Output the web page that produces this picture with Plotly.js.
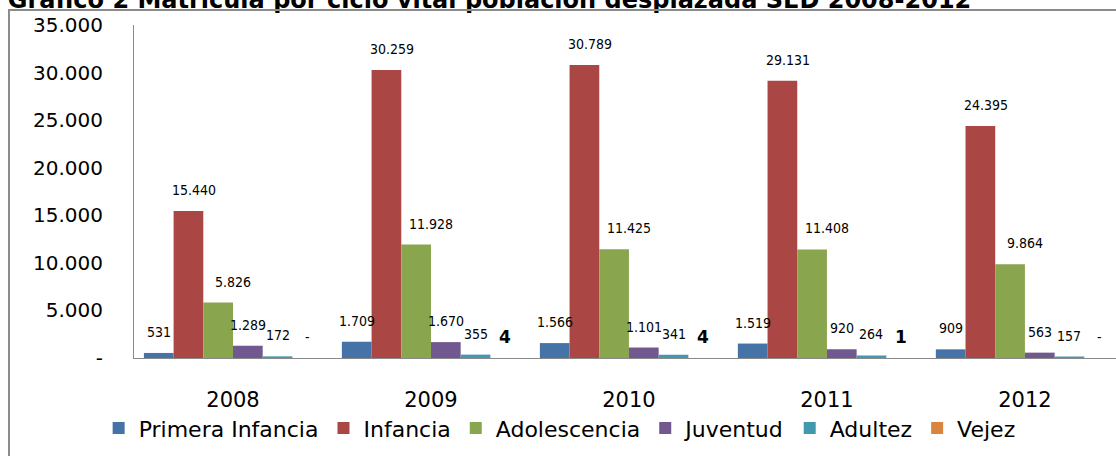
<!DOCTYPE html>
<html>
<head>
<meta charset="utf-8">
<script src="https://cdn.plot.ly/plotly-3.0.1.min.js"></script>
<style>
  html, body { margin: 0; padding: 0; background: #fff; overflow: hidden; }
  #chart { width: 1116px; height: 456px; }
  #frame { position: absolute; left: 8px; top: 9px; width: 1200px; height: 600px;
           border-left: 2px solid #8c8c8c; border-top: 2px solid #8c8c8c; pointer-events: none; }
</style>
</head>
<body>
<div id="chart"></div>
<div id="frame"></div>
<script>
// ---- data ----
const years = ['2008', '2009', '2010', '2011', '2012'];
const primeraInfancia = [531, 1709, 1566, 1519, 909];
const infancia = [15440, 30259, 30789, 29131, 24395];
const adolescencia = [5826, 11928, 11425, 11408, 9864];
const juventud = [1289, 1670, 1101, 920, 563];
const adultez = [172, 355, 341, 264, 157];
const vejez = [0, 4, 4, 1, 0];
const seriesNames = ['Primera Infancia', 'Infancia', 'Adolescencia', 'Juventud', 'Adultez', 'Vejez'];
const yTickVals = [0, 5000, 10000, 15000, 20000, 25000, 30000, 35000];

// ---- styling ----
const colors = ['#4572A7', '#AA4643', '#89A54E', '#71588F', '#4198AF', '#DB843D'];
const allSeries = [primeraInfancia, infancia, adolescencia, juventud, adultez, vejez];
const labelXShift = [0, 6, 15, 0, 0, 0];
const bargap = 0.1;
const nSeries = allSeries.length;

function fmt(v) {
  if (v === 0) return '-';
  return String(v).replace(/\B(?=(\d{3})+(?!\d))/g, '.');
}

const traces = allSeries.map((vals, i) => ({
  type: 'bar',
  name: seriesNames[i],
  x: years,
  y: vals,
  marker: { color: colors[i] },
  hoverinfo: 'skip'
}));

const annotations = [];
const slot = (1 - bargap) / nSeries;
allSeries.forEach((vals, i) => {
  vals.forEach((v, j) => {
    const isVejez = i === nSeries - 1;
    const bold = isVejez && v !== 0;
    annotations.push({
      x: j + (i - (nSeries - 1) / 2) * slot,
      y: v,
      xref: 'x', yref: 'y',
      text: bold ? '<b>' + fmt(v) + '</b>' : fmt(v),
      showarrow: false,
      xanchor: 'center', yanchor: 'middle',
      xshift: labelXShift[i],
      yshift: 21,
      font: bold ? { family: 'DejaVu Sans, sans-serif', size: 17, color: '#000' }
                 : { family: 'DejaVu Sans Condensed, DejaVu Sans, sans-serif', size: 14, color: '#000' }
    });
  });
});

const layout = {
  width: 1116, height: 456,
  margin: { l: 134, r: 0, t: 25, b: 98, pad: 0 },
  paper_bgcolor: '#fff', plot_bgcolor: '#fff',
  showlegend: true,
  barmode: 'group',
  bargap: bargap,
  bargroupgap: 0,
  title: {
    text: '<b>Gráfico 2 Matrícula por ciclo vital población desplazada SED 2008-2012</b>',
    font: { family: 'DejaVu Sans, sans-serif', size: 24, color: '#000' },
    xref: 'container', yref: 'container',
    x: 0.007, xanchor: 'left',
    y: 1.0, yanchor: 'middle'
  },
  xaxis: {
    type: 'category',
    range: [-0.5, 4.46],
    showline: true, linecolor: '#8a8a8a', linewidth: 1,
    showgrid: false, zeroline: false,
    ticks: '',
    ticklabelstandoff: 23,
    tickfont: { family: 'DejaVu Sans, sans-serif', size: 21, color: '#000' }
  },
  yaxis: {
    range: [0, 35000],
    showline: true, linecolor: '#8a8a8a', linewidth: 1,
    showgrid: false, zeroline: false,
    ticks: '',
    tickvals: yTickVals,
    ticktext: yTickVals.map(fmt),
    ticklabelstandoff: 26,
    tickfont: { family: 'DejaVu Sans, sans-serif', size: 20, color: '#000' }
  },
  legend: {
    orientation: 'h',
    x: -0.036, xanchor: 'left',
    y: -0.148, yanchor: 'top',
    font: { family: 'DejaVu Sans, sans-serif', size: 22, color: '#000' },
    itemgap: 17,
    bgcolor: 'rgba(0,0,0,0)'
  },
  annotations: annotations
};

Plotly.newPlot('chart', traces, layout, { staticPlot: true, displayModeBar: false });
</script>
</body>
</html>
